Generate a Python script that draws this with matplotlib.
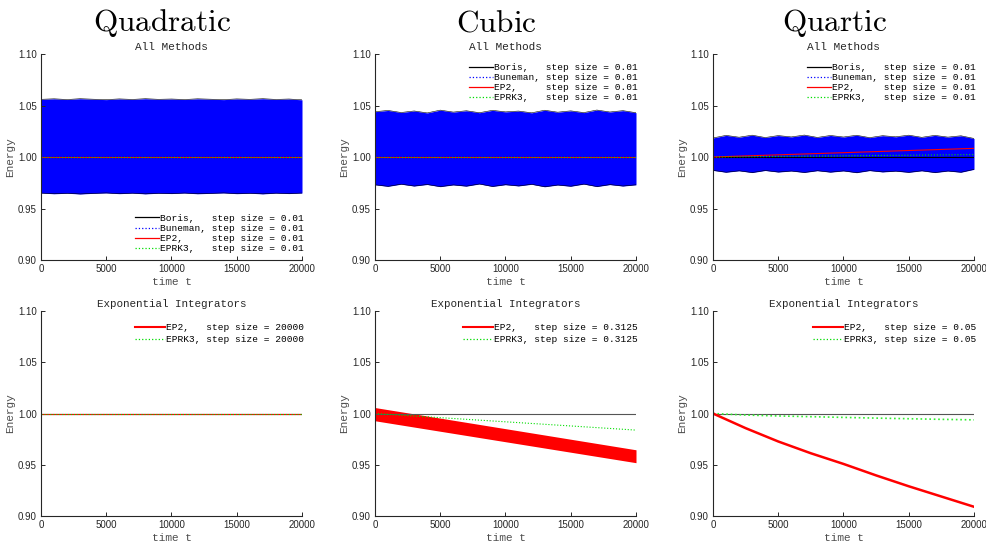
import numpy as np
import matplotlib
matplotlib.use("Agg")
import matplotlib.pyplot as plt

# time grid for envelopes (every 1000)
t_env = np.arange(0, 20001, 1000)

# top row: upper / lower envelopes of the fast oscillating energy (Boris / Buneman)
quad_top_hi = [1.0560, 1.0565, 1.0558, 1.0566, 1.0561, 1.0557, 1.0564, 1.0559, 1.0566, 1.0560, 1.0563,
               1.0558, 1.0565, 1.0561, 1.0557, 1.0564, 1.0560, 1.0566, 1.0559, 1.0563, 1.0555]
quad_top_lo = [0.9650, 0.9643, 0.9648, 0.9641, 0.9647, 0.9651, 0.9644, 0.9649, 0.9642, 0.9648, 0.9645,
               0.9650, 0.9643, 0.9647, 0.9651, 0.9644, 0.9648, 0.9642, 0.9649, 0.9645, 0.9650]
cub_top_hi = [1.0440, 1.0452, 1.0432, 1.0447, 1.0428, 1.0455, 1.0436, 1.0449, 1.0430, 1.0453, 1.0438,
              1.0446, 1.0429, 1.0454, 1.0435, 1.0448, 1.0431, 1.0456, 1.0437, 1.0450, 1.0430]
cub_top_lo = [0.9730, 0.9715, 0.9736, 0.9718, 0.9733, 0.9712, 0.9729, 0.9717, 0.9738, 0.9714, 0.9731,
              0.9719, 0.9735, 0.9711, 0.9728, 0.9716, 0.9737, 0.9713, 0.9732, 0.9718, 0.9730]
qrt_top_hi = [1.0185, 1.0210, 1.0192, 1.0212, 1.0189, 1.0208, 1.0195, 1.0213, 1.0190, 1.0209, 1.0194,
              1.0211, 1.0188, 1.0207, 1.0196, 1.0212, 1.0191, 1.0210, 1.0193, 1.0206, 1.0180]
qrt_top_lo = [0.9870, 0.9852, 0.9866, 0.9849, 0.9869, 0.9854, 0.9864, 0.9850, 0.9867, 0.9853, 0.9865,
              0.9848, 0.9868, 0.9855, 0.9863, 0.9851, 0.9866, 0.9849, 0.9864, 0.9852, 0.9880]

# EP2 / EPRK3 trends (step 0.01), top row
t_lin = [0, 20000]
quad_ep2 = [1.0, 1.0]
quad_eprk3 = [1.0, 1.0]
cub_ep2 = [1.0, 1.0]
cub_eprk3 = [1.0, 1.0]
qrt_ep2 = [1.0, 1.0084]
qrt_eprk3 = [1.0, 1.0023]

# bottom row: exponential integrators at large step sizes
quad_bot_ep2 = [1.0, 1.0]
quad_bot_eprk3 = [1.0, 1.0]
cub_bot_ep2_hi = [1.0058, 0.9646]
cub_bot_ep2_lo = [0.9929, 0.9520]
cub_bot_eprk3 = [1.0, 0.9838]
t_q = [0, 2500, 5000, 7500, 10000, 12500, 15000, 17500, 20000]
qrt_bot_ep2 = [1.0, 0.9857, 0.9727, 0.9612, 0.9508, 0.9396, 0.9290, 0.9190, 0.9090]
qrt_bot_eprk3 = [1.0, 0.9985, 0.9976, 0.9969, 0.9962, 0.9955, 0.9949, 0.9943, 0.9938]

titles = ["Quadratic", "Cubic", "Quartic"]
top_steps = ["0.01", "0.01", "0.01"]
bot_steps = ["20000", "0.3125", "0.05"]

mono = "Liberation Mono"
sans = "Liberation Sans"
gray = "#4d4d4d"

fig = plt.figure(figsize=(9.87, 5.46), dpi=100)
W, H = 987.0, 546.0
lefts = [41, 375, 713]
aw = 261
ah_top, ah_bot = 206, 205


def style(ax):
    ax.set_xlim(0, 20000)
    ax.set_ylim(0.90, 1.10)
    ax.set_xticks([0, 5000, 10000, 15000, 20000])
    ax.set_yticks([0.90, 0.95, 1.00, 1.05, 1.10])
    ax.set_yticklabels(["0.90", "0.95", "1.00", "1.05", "1.10"])
    for s in ["top", "right"]:
        ax.spines[s].set_visible(False)
    for s in ["left", "bottom"]:
        ax.spines[s].set_color("#262626")
        ax.spines[s].set_linewidth(0.8)
    ax.tick_params(direction="in", length=3, width=0.7, colors="#262626",
                   labelsize=7, pad=3)
    for lab in ax.get_xticklabels() + ax.get_yticklabels():
        lab.set_fontfamily(sans)
    ax.set_ylabel("Energy", fontfamily=mono, fontsize=8, color=gray, labelpad=2)
    ax.set_xlabel("time t", fontfamily=mono, fontsize=8, color=gray, labelpad=2)


top_data = [
    (quad_top_hi, quad_top_lo, quad_ep2, quad_eprk3),
    (cub_top_hi, cub_top_lo, cub_ep2, cub_eprk3),
    (qrt_top_hi, qrt_top_lo, qrt_ep2, qrt_eprk3),
]

for i in range(3):
    # ---- top row: all methods
    ax = fig.add_axes([lefts[i] / W, 1 - 260 / H, aw / W, ah_top / H])
    hi, lo, ep2, eprk3 = top_data[i]
    ax.plot(t_env, hi, color="k", lw=0.4)
    ax.plot(t_env, lo, color="k", lw=0.4)
    ax.fill_between(t_env, lo, hi, color="#0000ff", lw=0)
    ax.plot([0, 20000], [1.0, 1.0], color="k", lw=0.8)
    ax.plot(t_lin, ep2, color="red", lw=0.8)
    ax.plot(t_lin, eprk3, color="#00dd00", lw=0.8, ls=":")
    style(ax)
    ax.set_title("All Methods", fontfamily=mono, fontsize=8, color="#262626", pad=3)
    h1, = ax.plot([], [], color="k", lw=0.9)
    h2, = ax.plot([], [], color="#0000ff", lw=0.9, ls=":")
    h3, = ax.plot([], [], color="red", lw=0.9)
    h4, = ax.plot([], [], color="#00dd00", lw=0.9, ls=":")
    s = top_steps[i]
    labels = ["Boris,   step size = " + s, "Buneman, step size = " + s,
              "EP2,     step size = " + s, "EPRK3,   step size = " + s]
    if i == 0:
        loc, anchor = "lower right", (1 + 5 / aw, 4 / ah_top)
    else:
        loc, anchor = "upper right", (1 + 5 / aw, 1 - 6 / ah_top)
    ax.legend([h1, h2, h3, h4], labels, loc=loc, bbox_to_anchor=anchor, frameon=False,
              prop={"family": mono, "size": 6.8}, labelspacing=0.12,
              handlelength=2.6, handletextpad=0.1, borderaxespad=0.1,
              borderpad=0.2)
    fig.text((lefts[i] + aw / 2 - 9) / W, 1 - 23 / H, "$\\mathrm{" + titles[i] + "}$",
             ha="center", va="center", fontsize=22.5, math_fontfamily="cm")

    # ---- bottom row: exponential integrators
    ax = fig.add_axes([lefts[i] / W, 1 - 516 / H, aw / W, ah_bot / H])
    if i == 0:
        ax.plot([0, 20000], [1.0, 1.0], color="k", lw=0.8)
        ax.plot(t_lin, quad_bot_ep2, color="red", lw=0.8)
        ax.plot(t_lin, quad_bot_eprk3, color="#00dd00", lw=0.8, ls=":")
    elif i == 1:
        ax.plot([0, 20000], [1.0, 1.0], color="#555555", lw=0.8)
        ax.fill_between(t_lin, cub_bot_ep2_lo, cub_bot_ep2_hi, color="red", lw=0)
        ax.plot(t_lin, cub_bot_eprk3, color="#00dd00", lw=0.8, ls=":")
    else:
        ax.plot([0, 20000], [1.0, 1.0], color="#555555", lw=0.8)
        ax.plot(t_q, qrt_bot_eprk3, color="#33ee33", lw=1.2, ls=":")
        ax.plot(t_q, qrt_bot_ep2, color="red", lw=1.8)
    style(ax)
    ax.set_title("Exponential Integrators", fontfamily=mono, fontsize=7.8,
                 color="#262626", pad=3)
    g1, = ax.plot([], [], color="red", lw=1.5)
    g2, = ax.plot([], [], color="#00dd00", lw=0.9, ls=":")
    s = bot_steps[i]
    ax.legend([g1, g2], ["EP2,   step size = " + s, "EPRK3, step size = " + s],
              loc="upper right", bbox_to_anchor=(1 + 5 / aw, 1 - 9 / ah_bot),
              frameon=False, prop={"family": mono, "size": 6.8},
              labelspacing=0.32, handlelength=3.2, handletextpad=0.1,
              borderaxespad=0.1, borderpad=0.2)

fig.savefig("out.png", dpi=100)
